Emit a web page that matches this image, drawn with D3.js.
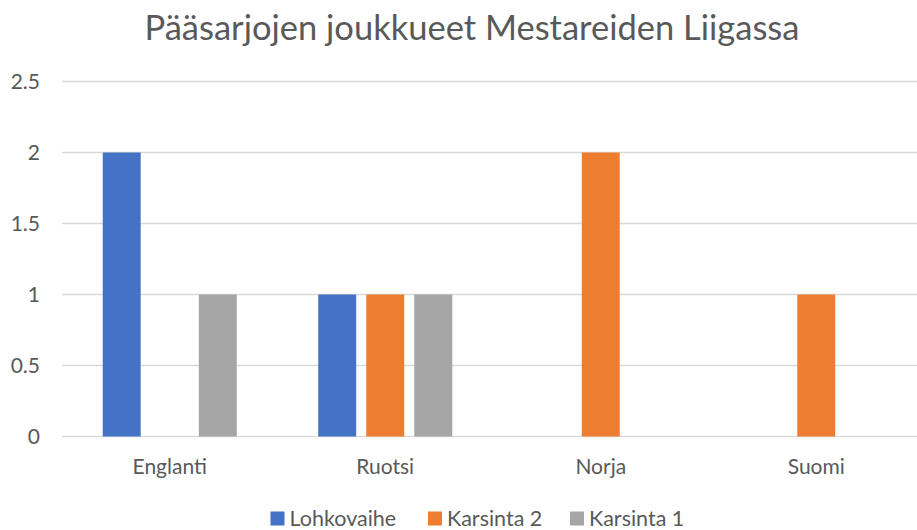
<!DOCTYPE html>
<html>
<head>
<meta charset="utf-8">
<script src="https://cdn.jsdelivr.net/npm/d3@7"></script>
<style>
  body { margin: 0; background: #fff; }
  svg { display: block; }
</style>
</head>
<body>
<svg id="chart"></svg>
<script>
const categories = ["Englanti", "Ruotsi", "Norja", "Suomi"];
const seriesNames = ["Lohkovaihe", "Karsinta 2", "Karsinta 1"];
const lohkovaihe = [2, 1, 0, 0];
const karsinta2 = [0, 1, 2, 1];
const karsinta1 = [1, 1, 0, 0];
const yTicks = [0, 0.5, 1, 1.5, 2, 2.5];
const colors = ["#4472C4", "#ED7D31", "#A5A5A5"];

const seriesValues = [lohkovaihe, karsinta2, karsinta1];

var w = 917;
var h = 530;
let margin = ({ top: 81.5, right: -7, bottom: 93.5, left: 62 });

const font = "Lato, 'Open Sans', sans-serif";

var svg = d3.select("#chart")
    .attr("width", w)
    .attr("height", h)

var xScale = d3.scaleBand()
    .domain(categories)
    .range([margin.left, w - margin.right])

var inner = d3.scaleBand()
    .domain(seriesNames)
    .range([xScale.bandwidth() / 2 - 67, xScale.bandwidth() / 2 + 67])
    .paddingInner(0.21)

var yScale = d3.scaleLinear()
    .domain([0, 2.5])
    .range([h - margin.bottom, margin.top])

// gridlines
svg.append("g")
    .selectAll("line")
    .data(yTicks)
    .join("line")
    .attr("x1", margin.left)
    .attr("x2", w)
    .attr("y1", d => yScale(d))
    .attr("y2", d => yScale(d))
    .attr("stroke", "#d9d9d9")
    .attr("stroke-width", 1.3)

// bars
const rows = categories.map((c, i) => ({ category: c, values: seriesNames.map((s, j) => ({ key: s, idx: j, value: seriesValues[j][i] })) }));

svg.append("g")
    .selectAll("g")
    .data(rows)
    .join("g")
    .attr("transform", d => `translate(${xScale(d.category)},0)`)
    .selectAll("rect")
    .data(d => d.values.filter(v => v.value > 0))
    .join("rect")
    .attr("x", d => inner(d.key))
    .attr("y", d => yScale(d.value))
    .attr("width", inner.bandwidth())
    .attr("height", d => yScale(0) - yScale(d.value))
    .attr("fill", d => colors[d.idx])

// y axis labels
let yAxis = g => g
    .attr("transform", `translate(${margin.left - 14},0)`)
    .call(d3.axisLeft(yScale).tickValues(yTicks).tickSize(0).tickPadding(8).tickFormat(d3.format("")))
    .call(g => g.select(".domain").remove())
    .call(g => g.selectAll("text")
        .attr("fill", "#595959")
        .style("font-family", font)
        .style("font-size", "21px"))

svg.append("g").call(yAxis);

// x axis labels
let xAxis = g => g
    .attr("transform", `translate(0,${yScale(0)})`)
    .call(d3.axisBottom(xScale).tickSize(0))
    .call(g => g.select(".domain").remove())
    .call(g => g.selectAll("text")
        .attr("y", 37)
        .attr("dy", null)
        .attr("fill", "#595959")
        .style("font-family", font)
        .style("font-size", "21px"))

svg.append("g").call(xAxis);

// title
svg.append("text")
    .attr("x", 472)
    .attr("y", 40)
    .attr("text-anchor", "middle")
    .attr("fill", "#595959")
    .style("font-family", font)
    .style("font-size", "34.5px")
    .text("Pääsarjojen joukkueet Mestareiden Liigassa")

// legend (kept just inside the bottom edge)
const legendX = [270.5, 428, 570];
const legend = svg.append("g")
    .selectAll("g")
    .data(seriesNames)
    .join("g")
    .attr("transform", (d, i) => `translate(${legendX[i]},${511.5})`)

legend.append("rect")
    .attr("width", 14)
    .attr("height", 14)
    .attr("fill", (d, i) => colors[i])

legend.append("text")
    .attr("x", 19)
    .attr("y", 14)
    .attr("fill", "#595959")
    .style("font-family", font)
    .style("font-size", "21.5px")
    .text(d => d)
</script>
</body>
</html>
